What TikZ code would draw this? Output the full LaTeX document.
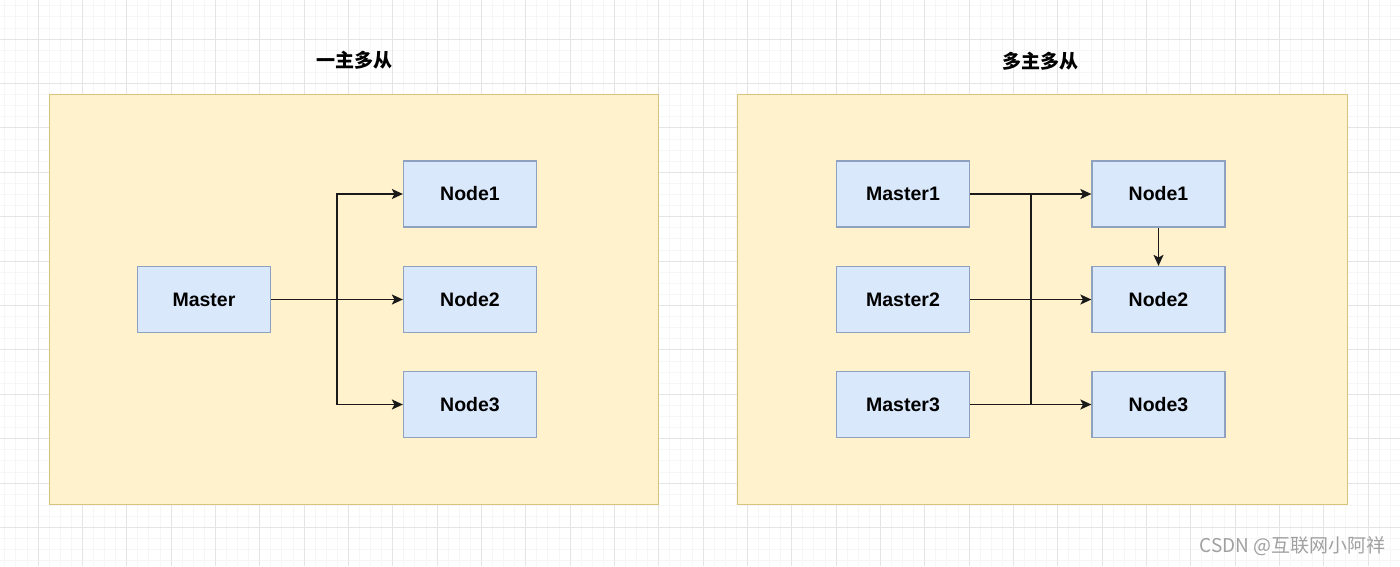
\documentclass[tikz,border=0pt]{standalone}
\usepackage{fontspec}
\setmainfont{Liberation Sans}
\newfontfamily\cjk{Noto Sans CJK SC}
\usetikzlibrary{arrows.meta}
\definecolor{contfill}{HTML}{FFF2CC}
\definecolor{contdraw}{HTML}{D9C27A}
\definecolor{nodefill}{HTML}{DAE8FC}
\definecolor{nodedraw}{HTML}{8EA2C0}
\definecolor{minorgrid}{HTML}{F6F6F6}
\definecolor{majorgrid}{HTML}{E4E4E4}
\definecolor{wm}{HTML}{A0A0A0}
\definecolor{linec}{HTML}{1A1A1A}
\tikzset{
  cont/.style={draw=contdraw, fill=contfill, line width=1pt},
  box/.style={draw=nodedraw, fill=nodefill, line width=1.2pt, minimum width=133pt, minimum height=66pt, inner sep=0pt, font=\fontsize{19.5}{22}\selectfont\bfseries, text=black},
  ttl/.style={font=\cjk\bfseries\fontsize{19}{22}\selectfont, text=black},
  conn/.style={draw=linec, line width=1.5pt},
  arr/.style={conn, -{Stealth[length=11pt,width=10pt,inset=2.5pt]}}
}
\begin{document}
\begin{tikzpicture}[x=1pt,y=-1pt]
\useasboundingbox (0,0) rectangle (1400,566);
\fill[white] (0,0) rectangle (1400,566);
% grid
\foreach \i in {0,...,126} {\draw[minorgrid, line width=0.8pt] ({4.75+11.0833*\i},0) -- ++(0,566);}
\foreach \i in {0,...,50} {\draw[minorgrid, line width=0.8pt] (0,{5.7+11.1*\i}) -- ++(1400,0);}
\foreach \i in {0,...,30} {\draw[majorgrid, line width=1pt] ({38+44.333*\i},0) -- ++(0,566);}
\foreach \i in {0,...,11} {\draw[majorgrid, line width=1pt] (0,{39+44.4*\i}) -- ++(1400,0);}
% containers
\draw[cont] (49,94) rectangle (658,504);
\draw[cont] (737,94) rectangle (1347,504);
% titles
\node[ttl] (t1) at (354,60) {一主多从};
\node[ttl] (t2) at (1040,61) {多主多从};
% left group
\node[box] (m) at (204,299.5) {Master};
\node[box] (ln1) at (470,194) {Node1};
\node[box] (ln2) at (470,299.5) {Node2};
\node[box] (ln3) at (470,404.5) {Node3};
\coordinate (lb) at (337,299.5);
\draw[arr] (m.east) -- (ln2.west);
\draw[arr] (lb) |- (ln1.west);
\draw[arr] (lb) |- (ln3.west);
% right group
\node[box] (m1) at (903,194) {Master1};
\node[box] (m2) at (903,299.5) {Master2};
\node[box] (m3) at (903,404.5) {Master3};
\node[box] (rn1) at (1158.5,194) {Node1};
\node[box] (rn2) at (1158.5,299.5) {Node2};
\node[box] (rn3) at (1158.5,404.5) {Node3};
\coordinate (rt) at (1031,194);
\coordinate (rb) at (1031,404.5);
\draw[arr] (m1.east) -- (rn1.west);
\draw[arr] (m2.east) -- (rn2.west);
\draw[arr] (m3.east) -- (rn3.west);
\draw[conn] (rt) -- (rb);
\draw[arr] (rn1.south) -- (rn2.north);
% watermark
\node[anchor=east, text=wm, inner sep=0pt, font=\cjk\fontsize{19}{21}\selectfont] (wmk) at (1386,546) {CSDN @互联网小阿祥};
\end{tikzpicture}
\end{document}
